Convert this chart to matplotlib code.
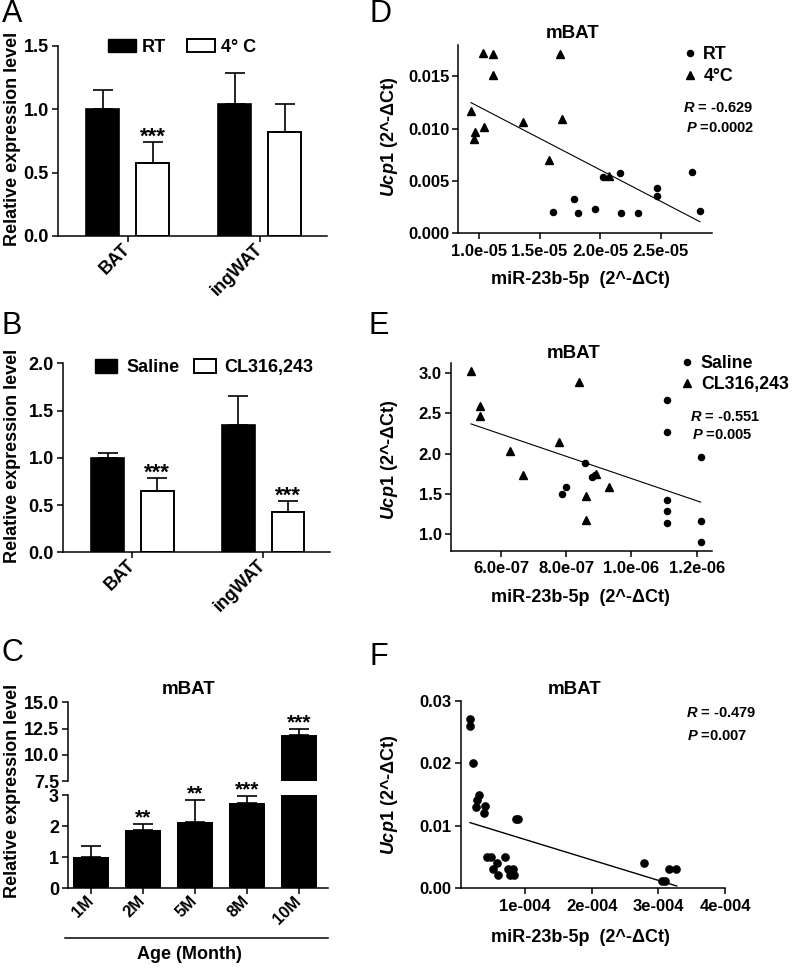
import numpy as np
import matplotlib
matplotlib.use('Agg')
import matplotlib.pyplot as plt
from matplotlib.lines import Line2D
from matplotlib.patches import Patch

plt.rcParams['font.family'] = ['Liberation Sans', 'DejaVu Sans']
plt.rcParams['font.weight'] = 'bold'
plt.rcParams['mathtext.fontset'] = 'custom'
plt.rcParams['mathtext.it'] = 'Liberation Sans:italic:bold'
plt.rcParams['mathtext.rm'] = 'Liberation Sans:bold'
plt.rcParams['mathtext.bf'] = 'Liberation Sans:bold'
plt.rcParams['axes.linewidth'] = 1.1
plt.rcParams['xtick.major.width'] = 1.1
plt.rcParams['ytick.major.width'] = 1.1
plt.rcParams['xtick.major.size'] = 4
plt.rcParams['ytick.major.size'] = 4
plt.rcParams['ytick.major.pad'] = 2.5

# ---- data ----
# A: RT vs 4 C
tissues = ['BAT', 'ingWAT']
a_rt = [1.0, 1.04]
a_rt_err = [0.15, 0.25]
a_cold = [0.575, 0.82]
a_cold_err = [0.165, 0.22]
a_stars = ['***', '']

# B: Saline vs CL316,243
b_saline = [1.0, 1.35]
b_saline_err = [0.05, 0.30]
b_cl = [0.65, 0.43]
b_cl_err = [0.14, 0.11]
b_stars = ['***', '***']

# C: age series
ages = ['1M', '2M', '5M', '8M', '10M']
c_mean = [1.0, 1.88, 2.15, 2.74, 11.87]
c_err = [0.36, 0.18, 0.70, 0.24, 0.60]
c_stars = ['', '**', '**', '***', '***']

# D: mBAT, RT (circles) and 4C (triangles)
d_rt_x = [1.614e-5, 1.787e-5, 1.815e-5, 1.960e-5, 2.021e-5, 2.164e-5,
          2.170e-5, 2.310e-5, 2.467e-5, 2.472e-5, 2.761e-5, 2.827e-5]
d_rt_y = [0.00207, 0.00325, 0.00191, 0.00232, 0.00538, 0.00573,
          0.00191, 0.00191, 0.00430, 0.00357, 0.00586, 0.00216]
d_cold_x = [0.931e-5, 0.970e-5, 0.959e-5, 1.041e-5, 1.033e-5, 1.116e-5,
            1.116e-5, 1.363e-5, 1.575e-5, 1.669e-5, 1.682e-5, 2.070e-5]
d_cold_y = [0.01172, 0.00965, 0.00905, 0.01019, 0.01727, 0.01714,
            0.01510, 0.01067, 0.00704, 0.01711, 0.01089, 0.00548]
d_fit_x = [0.934e-5, 2.824e-5]
d_fit_y = [0.01249, 0.00111]

# E: mBAT, Saline (circles) and CL316,243 (triangles)
e_sal_x = [7.88e-7, 7.98e-7, 8.59e-7, 8.78e-7, 8.88e-7, 1.108e-6, 1.108e-6,
           1.108e-6, 1.108e-6, 1.108e-6, 1.212e-6, 1.212e-6, 1.212e-6]
e_sal_y = [1.50, 1.583, 1.884, 1.71, 1.731, 2.665, 2.273,
           1.417, 1.289, 1.132, 1.963, 1.165, 0.897]
e_cl_x = [5.07e-7, 5.37e-7, 5.37e-7, 6.29e-7, 6.68e-7, 7.79e-7,
          8.39e-7, 8.60e-7, 8.60e-7, 8.90e-7, 9.30e-7]
e_cl_y = [3.03, 2.587, 2.463, 2.037, 1.731, 2.14,
          2.884, 1.467, 1.169, 1.74, 1.587]
e_fit_x = [5.08e-7, 1.212e-6]
e_fit_y = [2.368, 1.397]

# F: mBAT, all samples
f_x = [1.75e-5, 1.75e-5, 2.25e-5, 3.15e-5, 2.85e-5, 2.7e-5, 3.95e-5, 3.85e-5,
       9.0e-5, 8.65e-5, 4.35e-5, 4.85e-5, 5.75e-5, 5.25e-5, 5.95e-5, 7.0e-5,
       7.5e-5, 8.25e-5, 7.75e-5, 8.4e-5, 7.9e-5, 2.79e-4, 3.05e-4, 3.1e-4,
       3.165e-4, 3.265e-4]
f_y = [0.02706, 0.0260, 0.0201, 0.01494, 0.01412, 0.01305, 0.01321, 0.01199,
       0.01108, 0.01108, 0.00506, 0.00506, 0.0041, 0.00304, 0.00208, 0.00506,
       0.00304, 0.00304, 0.00208, 0.00208, 0.00256, 0.0041, 0.00112, 0.00112,
       0.00304, 0.00304]
f_fit_x = [1.75e-5, 3.275e-4]
f_fit_y = [0.0105, 0.00037]

W, H = 793, 971
fig = plt.figure(figsize=(W / 100, H / 100), dpi=100)


def box(left, top, right, bottom):
    # pixel box -> figure fraction rect
    return [left / W, 1 - bottom / H, (right - left) / W, (bottom - top) / H]


def ftext(x, y, s, **kw):
    fig.text(x / W, 1 - y / H, s, **kw)


def clean(ax):
    ax.spines['top'].set_visible(False)
    ax.spines['right'].set_visible(False)


def pair_bars(ax, m1, e1, m2, e2, stars, ymax, yticks, labels, leg_kw):
    x = np.arange(len(tissues))
    off, w = 0.19, 0.25
    n = len(tissues)
    ax.bar(x - off, m1, w, color='black', edgecolor='black', linewidth=1.2)
    ax.errorbar(x - off, m1, yerr=[np.zeros(n), e1], fmt='none', ecolor='black',
                elinewidth=1.2, capsize=7, capthick=1.2)
    ax.bar(x + off, m2, w, color='white', edgecolor='black', linewidth=1.4)
    ax.errorbar(x + off, m2, yerr=[np.zeros(n), e2], fmt='none', ecolor='black',
                elinewidth=1.2, capsize=7, capthick=1.2)
    for i, s in enumerate(stars):
        if s:
            ax.annotate(s, (x[i] + off, m2[i] + e2[i]), xytext=(0, -0.5),
                        textcoords='offset points', ha='center', va='baseline',
                        fontsize=16, annotation_clip=False)
    ax.set_xlim(-0.53, 1.51)
    ax.set_ylim(0, ymax)
    ax.set_yticks(yticks)
    ax.set_yticklabels([f'{v:.1f}' for v in yticks], fontsize=13)
    ax.set_xticks(x)
    ax.set_xticklabels(tissues, fontsize=13, rotation=45, ha='right',
                       va='center', rotation_mode='anchor')
    clean(ax)
    handles = [Patch(facecolor='black', edgecolor='black'),
               Patch(facecolor='white', edgecolor='black', linewidth=1.4)]
    ax.legend(handles, labels, loc='upper left', ncol=2, frameon=False,
              borderpad=0, borderaxespad=0, prop={'size': 13, 'weight': 'bold'},
              **leg_kw)


# ---- A ----
axA = fig.add_axes(box(58, 46, 327, 236))
pair_bars(axA, a_rt, a_rt_err, a_cold, a_cold_err, a_stars, 1.5,
          [0.0, 0.5, 1.0, 1.5], ['RT', '4° C'],
          dict(bbox_to_anchor=(0.186, 1.038), handlelength=1.55,
               handleheight=0.78, handletextpad=0.3, columnspacing=1.2))

# ---- B ----
axB = fig.add_axes(box(63, 363.3, 330, 552.3))
pair_bars(axB, b_saline, b_saline_err, b_cl, b_cl_err, b_stars, 2.0,
          [0.0, 0.5, 1.0, 1.5, 2.0], ['Saline', 'CL316,243'],
          dict(bbox_to_anchor=(0.12, 1.024), handlelength=1.22,
               handleheight=0.83, handletextpad=0.5, columnspacing=0.8))

# ---- C (broken y axis) ----
axC_lo = fig.add_axes(box(68, 795.3, 328, 888.3))
axC_hi = fig.add_axes(box(68, 702.3, 328, 781.3))
xc = np.arange(len(ages))
for ax in (axC_lo, axC_hi):
    ax.bar(xc, c_mean, 0.69, color='black')
    ax.errorbar(xc, c_mean, yerr=[np.zeros(len(ages)), c_err], fmt='none',
                ecolor='black', elinewidth=1.2, capsize=7, capthick=1.2)
    ax.set_xlim(-0.44, 4.56)
    clean(ax)
axC_lo.set_ylim(0, 3)
axC_hi.set_ylim(7.5, 15)
axC_lo.set_yticks([0, 1, 2, 3])
axC_lo.set_yticklabels(['0', '1', '2', '3'], fontsize=13)
axC_hi.set_yticks([7.5, 10.0, 12.5, 15.0])
axC_hi.set_yticklabels(['7.5', '10.0', '12.5', '15.0'], fontsize=13)
axC_hi.spines['bottom'].set_visible(False)
axC_hi.set_xticks([])
axC_lo.set_xticks(xc)
axC_lo.set_xticklabels(ages, fontsize=12, rotation=45, ha='right',
                       va='center', rotation_mode='anchor')
for i, s in enumerate(c_stars):
    if s:
        tgt = axC_hi if c_mean[i] > 3 else axC_lo
        tgt.annotate(s, (xc[i], c_mean[i] + c_err[i]), xytext=(0, 0.5),
                     textcoords='offset points', ha='center', va='baseline',
                     fontsize=15, annotation_clip=False)
fig.add_artist(Line2D([65 / W, 328 / W], [1 - 937.7 / H, 1 - 937.7 / H],
                      color='black', linewidth=1.1))
ftext(189, 954, 'Age (Month)', ha='center', va='center', fontsize=13)
ftext(189, 690, 'mBAT', ha='center', va='center', fontsize=13.5)

for y in (138.5, 456, 791):
    ftext(13, y, 'Relative expression level', rotation=90, ha='center',
          va='center', fontsize=13)


def scatter_axes(ax):
    clean(ax)
    ax.tick_params(labelsize=12)


ucp = r'$\it{Ucp1}$ (2^-ΔCt)'
mir = 'miR-23b-5p  (2^-ΔCt)'
leg_font = {'size': 12.8, 'weight': 'bold'}

# ---- D ----
axD = fig.add_axes(box(458.3, 45, 712, 233.3))
axD.plot(d_rt_x, d_rt_y, 'o', color='black', ms=4.4, label='RT')
axD.plot(d_cold_x, d_cold_y, '^', color='black', ms=6, label='4°C')
axD.plot(d_fit_x, d_fit_y, color='black', linewidth=0.8)
axD.set_xlim(0.829e-5, 2.924e-5)
axD.set_ylim(0, 0.018)
axD.set_xticks([1.0e-5, 1.5e-5, 2.0e-5, 2.5e-5])
axD.set_xticklabels(['1.0e-05', '1.5e-05', '2.0e-05', '2.5e-05'])
axD.set_yticks([0, 0.005, 0.010, 0.015])
axD.set_yticklabels(['0.000', '0.005', '0.010', '0.015'])
scatter_axes(axD)
axD.legend(loc='upper left', bbox_to_anchor=(0.885, 0.995), frameon=False,
           borderpad=0, borderaxespad=0, handlelength=0.8, handletextpad=0.35,
           labelspacing=0.3, prop=leg_font)
axD.text(0.886, 0.665, r'$\it{R}$ = -0.629', transform=axD.transAxes,
         fontsize=10.5, va='center')
axD.text(0.897, 0.559, r'$\it{P}$ =0.0002', transform=axD.transAxes,
         fontsize=10.5, va='center')
ftext(573, 34, 'mBAT', ha='center', va='center', fontsize=13.5)

# ---- E ----
axE = fig.add_axes(box(450.7, 363.3, 711.7, 551))
axE.plot(e_sal_x, e_sal_y, 'o', color='black', ms=4.4, label='Saline')
axE.plot(e_cl_x, e_cl_y, '^', color='black', ms=6, label='CL316,243')
axE.plot(e_fit_x, e_fit_y, color='black', linewidth=0.8)
axE.set_xlim(4.46e-7, 1.246e-6)
axE.set_ylim(0.79, 3.12)
axE.set_xticks([6e-7, 8e-7, 1e-6, 1.2e-6])
axE.set_xticklabels(['6.0e-07', '8.0e-07', '1.0e-06', '1.2e-06'])
axE.set_yticks([1.0, 1.5, 2.0, 2.5, 3.0])
axE.set_yticklabels(['1.0', '1.5', '2.0', '2.5', '3.0'])
scatter_axes(axE)
axE.legend(loc='upper left', bbox_to_anchor=(0.88, 1.045), frameon=False,
           borderpad=0, borderaxespad=0, handlelength=0.8, handletextpad=0.35,
           labelspacing=0.25, prop=leg_font)
axE.text(0.917, 0.714, r'$\it{R}$ = -0.551', transform=axE.transAxes,
         fontsize=10.5, va='center')
axE.text(0.925, 0.618, r'$\it{P}$ =0.005', transform=axE.transAxes,
         fontsize=10.5, va='center')
ftext(574, 354, 'mBAT', ha='center', va='center', fontsize=13.5)

# ---- F ----
axF = fig.add_axes(box(460.7, 700.7, 725, 888.3))
axF.plot(f_x, f_y, 'o', color='black', ms=5.2)
axF.plot(f_fit_x, f_fit_y, color='black', linewidth=1.0)
axF.set_xlim(3.5e-6, 4e-4)
axF.set_ylim(0, 0.03)
axF.set_xticks([1e-4, 2e-4, 3e-4, 4e-4])
axF.set_xticklabels(['1e-004', '2e-004', '3e-004', '4e-004'])
axF.set_yticks([0, 0.01, 0.02, 0.03])
axF.set_yticklabels(['0.00', '0.01', '0.02', '0.03'])
scatter_axes(axF)
axF.text(0.852, 0.934, r'$\it{R}$ = -0.479', transform=axF.transAxes,
         fontsize=10.5, va='center')
axF.text(0.856, 0.812, r'$\it{P}$ =0.007', transform=axF.transAxes,
         fontsize=10.5, va='center')
ftext(575, 689, 'mBAT', ha='center', va='center', fontsize=13.5)

for y in (137, 460, 795):
    ftext(390, y, ucp, rotation=90, ha='center', va='center', fontsize=13)
for y in (280, 597, 937):
    ftext(580, y, mir, ha='center', va='center', fontsize=13)

# panel letters
for s, x, y in [('A', 12, 14), ('B', 12, 326), ('C', 12, 653),
                ('D', 380, 14), ('E', 379, 326), ('F', 379, 657)]:
    ftext(x, y, s, ha='center', va='center', fontsize=22, fontweight='normal')

fig.savefig('out.png', dpi=100)
